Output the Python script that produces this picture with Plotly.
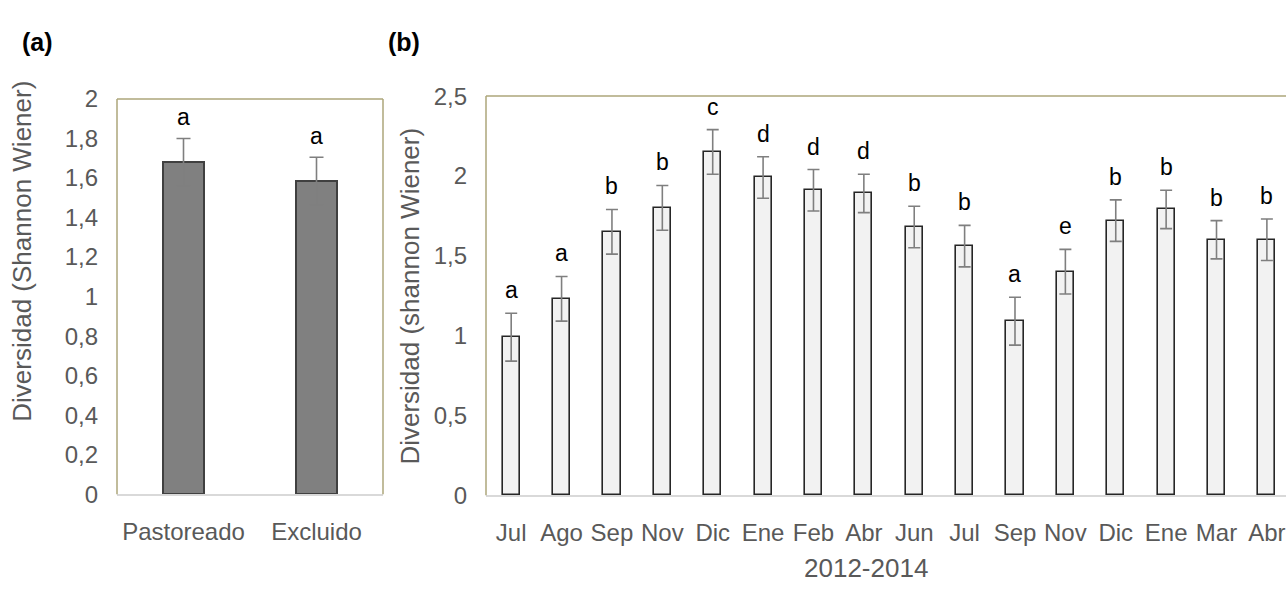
import plotly.graph_objects as go

# Panel (a): diversity by management treatment
sitios = ["Pastoreado", "Excluido"]
div_sitio = [1.68, 1.585]
err_sitio = [0.12, 0.12]
letras_sitio = ["a", "a"]

# Panel (b): diversity by sampling month, 2012-2014
meses = ["Jul", "Ago", "Sep", "Nov", "Dic", "Ene", "Feb", "Abr",
         "Jun", "Jul", "Sep", "Nov", "Dic", "Ene", "Mar", "Abr"]
div_mes = [0.99, 1.23, 1.65, 1.80, 2.15, 1.99, 1.91, 1.89,
           1.68, 1.56, 1.09, 1.40, 1.72, 1.79, 1.60, 1.60]
err_mes = [0.15, 0.14, 0.14, 0.14, 0.14, 0.13, 0.13, 0.12,
           0.13, 0.13, 0.15, 0.14, 0.13, 0.12, 0.12, 0.13]
letras_mes = ["a", "a", "b", "b", "c", "d", "d", "d",
              "b", "b", "a", "e", "b", "b", "b", "b"]

W, H = 1286, 596
FONT = "Liberation Sans, Arial, sans-serif"
GRIS = "#595959"
OLIVA = "#aca67a"

# plot-area boxes in pixels (left, right, top, bottom)
A = (117, 383, 89, 503)
B = (486, 1286, 86, 504)


def px_x(v):
    return v / W


def px_y(v):
    return 1 - v / H


xa = list(range(len(sitios)))
xb = list(range(len(meses)))

fig = go.Figure()

fig.add_trace(go.Bar(
    x=xa, y=div_sitio, width=0.31,
    marker=dict(color="#808080", line=dict(color="#404040", width=2)),
    error_y=dict(type="data", array=err_sitio, color="#7f7f7f",
                 thickness=1.6, width=7),
    xaxis="x", yaxis="y", showlegend=False, hoverinfo="skip",
))

fig.add_trace(go.Bar(
    x=xb, y=div_mes, width=0.34,
    marker=dict(color="#f2f2f2", line=dict(color="#262626", width=1.6)),
    error_y=dict(type="data", array=err_mes, color="#7f7f7f",
                 thickness=1.6, width=6),
    xaxis="x2", yaxis="y2", showlegend=False, hoverinfo="skip",
))

ann = []
for x, v, e, t in zip(xa, div_sitio, err_sitio, letras_sitio):
    ann.append(dict(x=x, y=v + e, xref="x", yref="y", text=t, showarrow=False,
                    xanchor="center", yanchor="bottom", yshift=6,
                    font=dict(family=FONT, size=23, color="#000000")))
for x, v, e, t in zip(xb, div_mes, err_mes, letras_mes):
    ann.append(dict(x=x, y=v + e, xref="x2", yref="y2", text=t, showarrow=False,
                    xanchor="center", yanchor="bottom", yshift=8,
                    font=dict(family=FONT, size=23, color="#000000")))

# panel labels and axis titles
ann += [
    dict(x=px_x(37.5), y=px_y(29.5), xref="paper", yref="paper", text="<b>(a)</b>",
         xanchor="center", yanchor="middle", showarrow=False,
         font=dict(family=FONT, size=25, color="#000000")),
    dict(x=px_x(404), y=px_y(29.5), xref="paper", yref="paper", text="<b>(b)</b>",
         xanchor="center", yanchor="middle", showarrow=False,
         font=dict(family=FONT, size=25, color="#000000")),
    dict(x=px_x(22), y=px_y(249), xref="paper", yref="paper",
         text="Diversidad (Shannon Wiener)", textangle=-90, showarrow=False,
         xanchor="center", yanchor="middle",
         font=dict(family=FONT, size=26, color=GRIS)),
    dict(x=px_x(410), y=px_y(296), xref="paper", yref="paper",
         text="Diversidad (shannon Wiener)", textangle=-90, showarrow=False,
         xanchor="center", yanchor="middle",
         font=dict(family=FONT, size=26, color=GRIS)),
    dict(x=px_x(866), y=px_y(580), xref="paper", yref="paper",
         text="2012-2014", showarrow=False,
         xanchor="center", yanchor="middle",
         font=dict(family=FONT, size=26, color=GRIS)),
]

# olive plot-area borders (left, top, and right for panel a)
line = dict(color=OLIVA, width=1.5)
shapes = [
    dict(type="line", xref="paper", yref="paper", x0=px_x(A[0]), x1=px_x(A[0]),
         y0=px_y(A[3]), y1=px_y(A[2]), line=line),
    dict(type="line", xref="paper", yref="paper", x0=px_x(A[0]), x1=px_x(A[1]),
         y0=px_y(A[2]), y1=px_y(A[2]), line=line),
    dict(type="line", xref="paper", yref="paper", x0=px_x(A[1]), x1=px_x(A[1]),
         y0=px_y(A[3]), y1=px_y(A[2]), line=line),
    dict(type="line", xref="paper", yref="paper", x0=px_x(B[0]), x1=px_x(B[0]),
         y0=px_y(B[3]), y1=px_y(B[2]), line=line),
    dict(type="line", xref="paper", yref="paper", x0=px_x(B[0]), x1=px_x(B[1]),
         y0=px_y(B[2]), y1=px_y(B[2]), line=line),
]

tickfont = dict(family=FONT, size=24, color=GRIS)
xtickfont = dict(family=FONT, size=24, color=GRIS)

step_b = 50.38  # pixels per month slot
span_b = (B[1] - B[0]) / step_b

fig.update_layout(
    width=W, height=H, autosize=False,
    margin=dict(l=0, r=0, t=0, b=0),
    paper_bgcolor="white", plot_bgcolor="white",
    separators=", ",
    bargap=0,
    xaxis=dict(domain=[px_x(A[0]), px_x(A[1])], anchor="y",
               range=[-0.5, 1.5], tickvals=xa, ticktext=sitios,
               showgrid=False, zeroline=False, showline=True,
               linecolor="#d9d9d9", linewidth=1.5, ticks="",
               tickfont=xtickfont, ticklabelstandoff=15, fixedrange=True),
    yaxis=dict(domain=[px_y(A[3]), px_y(A[2])], anchor="x",
               range=[0, 2], dtick=0.2, tick0=0,
               showgrid=False, zeroline=False, showline=False, ticks="",
               tickfont=tickfont, ticklabelstandoff=18, fixedrange=True),
    xaxis2=dict(domain=[px_x(B[0]), 1.0], anchor="y2",
                range=[-0.5, -0.5 + span_b], tickvals=xb, ticktext=meses,
                showgrid=False, zeroline=False, showline=True,
                linecolor="#d9d9d9", linewidth=1.5, ticks="",
                tickfont=xtickfont, ticklabelstandoff=15, fixedrange=True),
    yaxis2=dict(domain=[px_y(B[3]), px_y(B[2])], anchor="x2",
                range=[0, 2.5], dtick=0.5, tick0=0,
                showgrid=False, zeroline=False, showline=False, ticks="",
                tickfont=tickfont, ticklabelstandoff=18, fixedrange=True),
    annotations=ann,
    shapes=shapes,
)

fig.write_html("out.html", config={"displayModeBar": False})
